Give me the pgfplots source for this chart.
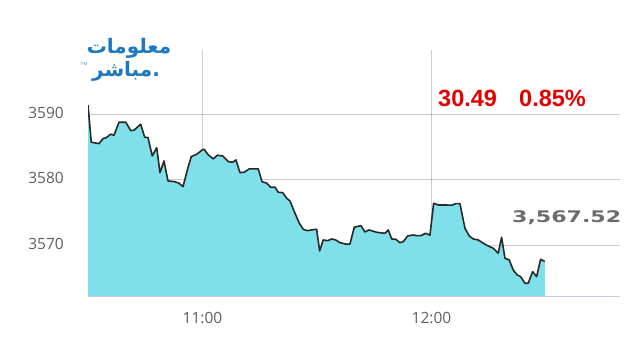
\documentclass[border=0pt]{standalone}
\usepackage{pgfplots}
\pgfplotsset{compat=1.18}
\usepgfplotslibrary{fillbetween}
\usepackage{pgfplotstable}
\usepackage{fontspec}
\setmainfont{Open Sans}
\newfontfamily\tickfont{Open Sans}
\newfontfamily\redfont{Liberation Sans}
\newfontfamily\grayfont{DejaVu Sans}
\newfontfamily\arabicfont[Script=Arabic]{DejaVu Sans}
\TeXXeTstate=1
\definecolor{areafill}{RGB}{128,224,234}
\definecolor{linecol}{RGB}{40,40,40}
\definecolor{tickcol}{RGB}{95,95,95}
\definecolor{redtxt}{RGB}{226,0,0}
\definecolor{graytxt}{RGB}{108,108,108}
\definecolor{logoblue}{RGB}{28,120,192}
\definecolor{baselinecol}{RGB}{196,204,240}

\pgfplotstableread{
x y
0 3591.4
0.86 3585.73
2.88 3585.51
3.93 3586.27
4.79 3586.43
5.95 3586.95
6.81 3586.79
8.12 3588.78
9.88 3588.78
11.19 3587.50
12.05 3587.56
13.81 3588.47
14.85 3586.49
15.72 3586.43
16.85 3583.63
18.0 3584.90
18.86 3581.08
19.91 3582.87
20.96 3579.82
22.71 3579.71
23.84 3579.47
24.89 3578.95
26.2 3581.85
27.06 3583.53
28.48 3583.89
29.95 3584.55
30.39 3584.66
31.52 3583.79
32.83 3583.18
33.87 3583.74
35.29 3583.63
36.76 3582.76
37.91 3582.67
38.77 3583.02
39.82 3581.08
40.95 3581.15
42.26 3581.65
44.62 3581.65
45.59 3579.71
46.82 3579.47
47.87 3578.85
49.0 3578.85
49.86 3578.09
51.01 3578.03
52.06 3577.18
52.92 3576.76
54.23 3574.89
55.36 3573.37
56.41 3572.44
57.45 3572.23
58.61 3572.34
59.91 3572.44
60.70 3569.13
61.64 3570.81
62.80 3570.70
63.85 3570.96
64.89 3570.81
66.02 3570.40
67.77 3570.15
68.64 3570.20
69.77 3572.75
71.52 3572.99
72.57 3572.03
73.62 3572.34
75.64 3571.98
77.81 3571.83
78.68 3572.34
79.57 3570.96
80.62 3570.92
81.74 3570.40
82.61 3570.55
83.76 3571.42
85.23 3571.57
86.12 3571.47
87.25 3571.47
88.48 3571.83
89.6 3571.54
90.57 3576.41
91.77 3576.15
93.53 3576.15
95.28 3576.11
96.41 3576.35
97.46 3576.35
98.77 3572.60
99.90 3571.42
100.94 3570.96
102.25 3570.81
103.56 3570.31
104.87 3569.89
106.18 3569.54
107.49 3568.78
108.38 3571.22
109.25 3568.02
110.37 3567.76
111.42 3566.23
112.47 3565.47
113.36 3565.21
114.49 3564.20
115.36 3564.20
116.5 3565.97
117.55 3565.21
118.6 3567.86
119.7 3567.52
}\series

\begin{document}
\begin{tikzpicture}
\path (0pt,0pt) rectangle (640pt,345pt);
\begin{axis}[
  at={(88pt,48.3pt)}, anchor=south west,
  scale only axis, width=532pt, height=246.7pt,
  set layers,
  xmin=0, xmax=139.4, ymin=3562.15, ymax=3599.8,
  xtick={30,90}, xticklabels={11:00,12:00},
  ytick={3570,3580,3590},
  major tick length=0pt,
  grid=major,
  major grid style={draw=black, opacity=0.2, line width=0.8pt},
  axis line style={draw=none},
  /pgf/number format/assume math mode=true,
  /pgf/number format/set thousands separator={},
  ticklabel style={font=\tickfont\fontsize{15.5}{16}\selectfont, text=tickcol, inner sep=0pt},
  yticklabel style={anchor=east, xshift=-24pt, yshift=1.5pt},
  xticklabel style={anchor=north, yshift=-15pt},
]
\addplot[draw=none, name path=top, forget plot] table {\series};
\addplot[draw=none, name path=bot, forget plot] coordinates {(0,3562.15) (119.7,3562.15)};
\addplot[fill=areafill, draw=none, on layer=axis background] fill between[of=top and bot];
\addplot[color=linecol, line width=1.6pt, line join=round, mark=none] table {\series};
\draw[draw=baselinecol, line width=1pt] (rel axis cs:0,0) -- (rel axis cs:1,0);
\end{axis}
% annotations
\node[anchor=base west, inner sep=0pt, text=redtxt, font=\redfont\bfseries\fontsize{23.5}{24}\selectfont] at (438pt,238pt) {30.49};
\node[anchor=base west, inner sep=0pt, text=redtxt, font=\redfont\bfseries\fontsize{23.5}{24}\selectfont] at (519pt,238pt) {0.85\%};
\node[anchor=base west, inner sep=0pt, text=graytxt] at (512pt,122.3pt) {\scalebox{1.38}[1]{\grayfont\bfseries\fontsize{16}{16}\selectfont 3,567.52}};
% logo
\node[inner sep=0pt, text=logoblue, font=\arabicfont\bfseries\fontsize{20}{20}\selectfont] at (129pt,297pt) {\beginR معلومات\endR};
\node[inner sep=0pt, text=logoblue, font=\arabicfont\bfseries\fontsize{20}{20}\selectfont] at (126pt,274pt) {\beginR .مباشر\endR};
\node[inner sep=0pt, text=logoblue, font=\sffamily\fontsize{4}{4}\selectfont] at (84pt,281pt) {TM};
\end{tikzpicture}
\end{document}
